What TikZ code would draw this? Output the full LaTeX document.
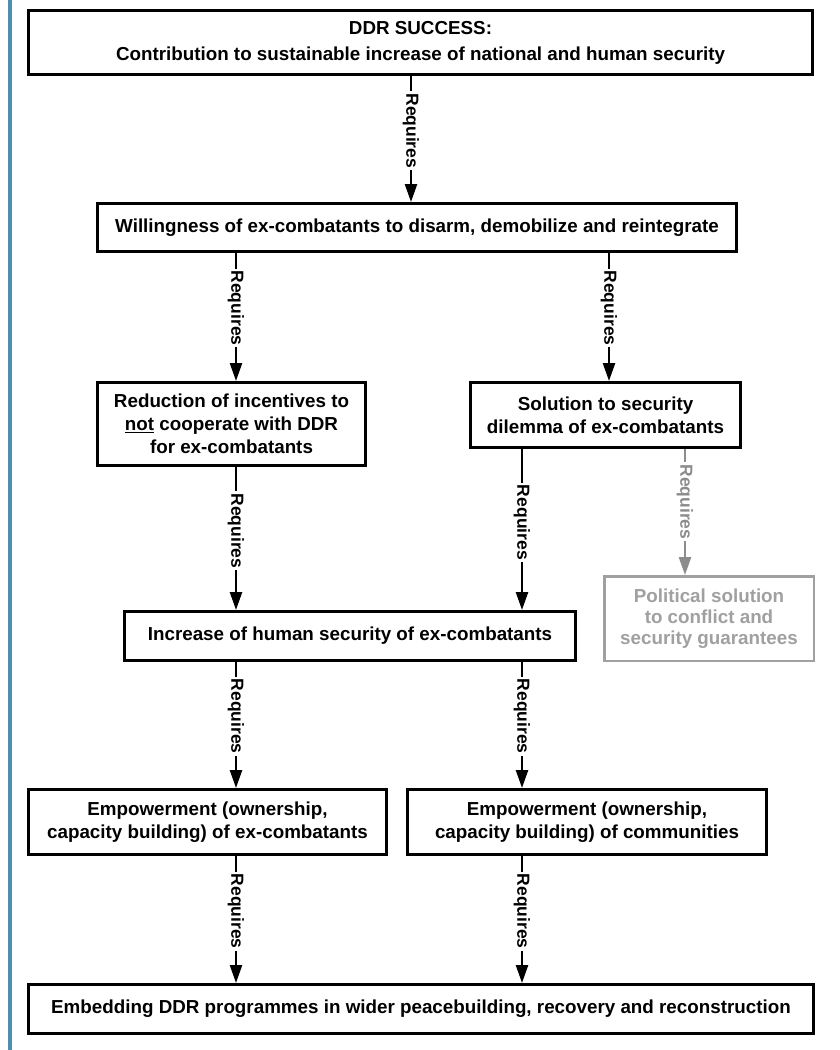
\documentclass[tikz,border=0pt]{standalone}
\usepackage{fontspec}
\setmainfont{Liberation Sans}
\usetikzlibrary{arrows.meta}
\definecolor{sideblue}{RGB}{80,142,176}
\definecolor{grayline}{RGB}{140,140,140}
\definecolor{graytext}{RGB}{160,160,160}
\begin{document}
\begin{tikzpicture}[x=1pt,y=-1pt,
  box/.style={draw=black, line width=3pt, fill=white, align=center, inner sep=0pt,
    font=\fontsize{18.8}{23}\selectfont\bfseries},
  gbox/.style={box, draw=graytext, line width=2.5pt, text=graytext},
  arr/.style={line width=2.5pt, -{Triangle[length=18pt,width=12pt]}},
  garr/.style={arr, draw=grayline},
  lab/.style={rotate=-90, fill=white, inner sep=2pt,
    font=\fontsize{17.5}{20}\selectfont\bfseries},
]
\useasboundingbox (0,0) rectangle (840,1050);
\fill[white] (0,0) rectangle (840,1050);
\fill[sideblue] (8,0) rectangle (12,1050);

\node[box, minimum width=784pt, minimum height=64pt] (b1) at (420.5,42.5)
  {DDR SUCCESS:\\[3pt]Contribution to sustainable increase of national and human security};
\node[box, minimum width=639pt, minimum height=48pt] (b2) at (417,227.5)
  {Willingness of ex-combatants to disarm, demobilize and reintegrate};
\node[box, minimum width=268pt, minimum height=83pt] (b3l) at (231.5,424)
  {Reduction of incentives to\\\underline{not} cooperate with DDR\\for ex-combatants};
\node[box, minimum width=270pt, minimum height=65pt] (b3r) at (605.5,415)
  {Solution to security\\dilemma of ex-combatants};
\node[box, minimum width=451pt, minimum height=49pt] (b4) at (350,636)
  {Increase of human security of ex-combatants};
\node[gbox, minimum width=209.5pt, minimum height=84.5pt, font=\fontsize{18.8}{21}\selectfont\bfseries] (bp) at (709,618.5)
  {Political solution\\to conflict and\\security guarantees};
\node[box, minimum width=358pt, minimum height=65pt] (b5l) at (207.5,822)
  {Empowerment (ownership,\\capacity building) of ex-combatants};
\node[box, minimum width=359pt, minimum height=65pt] (b5r) at (587,822)
  {Empowerment (ownership,\\capacity building) of communities};
\node[box, minimum width=785pt, minimum height=49pt] (b6) at (421,1009)
  {Embedding DDR programmes in wider peacebuilding, recovery and reconstruction};

\coordinate (xT) at (411,0);
\coordinate (xL) at (236,0);
\coordinate (xM) at (609,0);
\coordinate (xR) at (522,0);
\coordinate (xG) at (685,0);

\draw[arr] (b1.south -| xT) -- node[lab, pos=0.435]{Requires} (b2.north -| xT);
\draw[arr] (b2.south -| xL) -- node[lab, pos=0.43]{Requires} (b3l.north -| xL);
\draw[arr] (b2.south -| xM) -- node[lab, pos=0.43]{Requires} (b3r.north -| xM);
\draw[arr] (b3l.south -| xL) -- node[lab, pos=0.447]{Requires} (b4.north -| xL);
\draw[arr] (b3r.south -| xR) -- node[lab, pos=0.456]{Requires} (b4.north -| xR);
\draw[garr] (b3r.south -| xG) -- node[lab, text=grayline, pos=0.42]{Requires} (bp.north -| xG);
\draw[arr] (b4.south -| xL) -- node[lab, pos=0.43]{Requires} (b5l.north -| xL);
\draw[arr] (b4.south -| xR) -- node[lab, pos=0.43]{Requires} (b5r.north -| xR);
\draw[arr] (b5l.south -| xL) -- node[lab, pos=0.434]{Requires} (b6.north -| xL);
\draw[arr] (b5r.south -| xR) -- node[lab, pos=0.434]{Requires} (b6.north -| xR);
\end{tikzpicture}
\end{document}
